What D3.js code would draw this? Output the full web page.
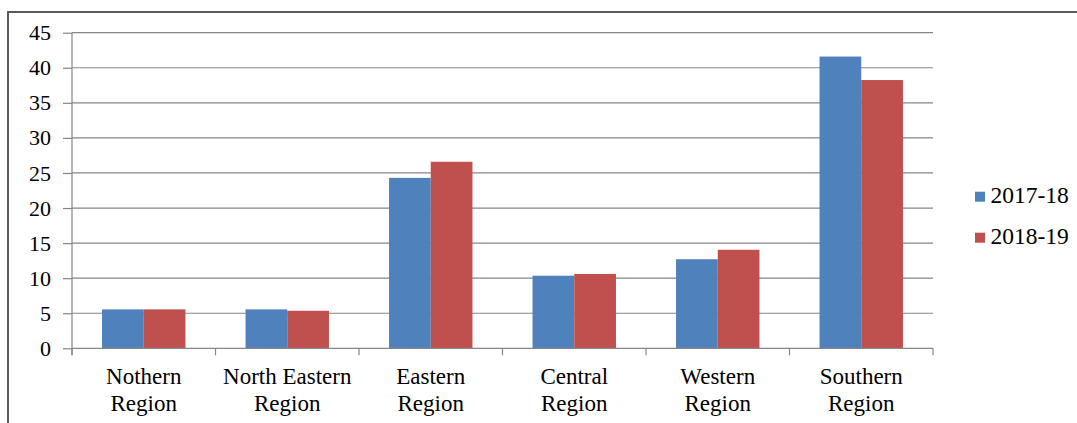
<!DOCTYPE html>
<html>
<head>
<meta charset="utf-8">
<script src="https://cdn.jsdelivr.net/npm/d3@7"></script>
<style>
  body { margin: 0; background: #fff; }
</style>
</head>
<body>
<div class="chart"></div>
<script>
const categories = [
  ["Nothern", "Region"],
  ["North Eastern", "Region"],
  ["Eastern", "Region"],
  ["Central", "Region"],
  ["Western", "Region"],
  ["Southern", "Region"]
];
const seriesNames = ["2017-18", "2018-19"];
const values2017 = [5.55, 5.55, 24.3, 10.35, 12.7, 41.6];
const values2018 = [5.55, 5.35, 26.6, 10.6, 14.05, 38.25];
const yTicks = [0, 5, 10, 15, 20, 25, 30, 35, 40, 45];
const colors = ["#4F81BD", "#C0504D"];

const FONT = "'Liberation Serif'";
const W = 1077, H = 423;
const margin = { top: 32.7, left: 72, right: 144, bottom: 74.7 };

const svg = d3.select(".chart").append("svg")
  .attr("width", W).attr("height", H)
  .style("font-family", FONT);

// outer chart border (left and top visible)
svg.append("path")
  .attr("d", `M8,${H} L8,12 L${W},12`)
  .attr("fill", "none").attr("stroke", "#595959").attr("stroke-width", 2);

const keys = categories.map((c) => c.join(" "));
const x = d3.scaleBand()
  .domain(keys)
  .range([margin.left, W - margin.right])
  .paddingInner(0).paddingOuter(0);

const y = d3.scaleLinear()
  .domain([0, 45])
  .range([H - margin.bottom, margin.top]);

const inner = d3.scaleBand()
  .domain(seriesNames)
  .range([0, x.bandwidth()])
  .paddingInner(0).paddingOuter(0.72);

// gridlines
svg.append("g")
  .selectAll("line")
  .data(yTicks.filter((d) => d > 0))
  .join("line")
  .attr("x1", margin.left).attr("x2", W - margin.right)
  .attr("y1", (d) => y(d)).attr("y2", (d) => y(d))
  .attr("stroke", "#868686").attr("stroke-width", 1.2);

// y axis
const yAxis = svg.append("g")
  .attr("transform", `translate(${margin.left},0)`)
  .call(d3.axisLeft(y).tickValues(yTicks).tickSize(9).tickSizeOuter(0).tickPadding(12));
yAxis.attr("font-family", null).attr("font-size", null);
yAxis.select(".domain").remove();
yAxis.append("line")
  .attr("x1", 0).attr("x2", 0)
  .attr("y1", margin.top).attr("y2", y(0) + 7)
  .attr("stroke", "#868686").attr("stroke-width", 1.2);
yAxis.selectAll(".tick line").attr("stroke", "#868686").attr("stroke-width", 1.2);
yAxis.selectAll(".tick text")
  .style("font-size", "22px")
  .style("font-family", FONT)
  .attr("fill", "#000");

// bars
const data = keys.map((k, i) => ({ key: k, vals: [values2017[i], values2018[i]] }));
svg.append("g")
  .selectAll("g")
  .data(data)
  .join("g")
  .attr("transform", (d) => `translate(${x(d.key)},0)`)
  .selectAll("rect")
  .data((d) => d.vals.map((v, j) => ({ name: seriesNames[j], value: v, j })))
  .join("rect")
  .attr("x", (d) => inner(d.name))
  .attr("width", inner.bandwidth())
  .attr("y", (d) => y(d.value))
  .attr("height", (d) => y(0) - y(d.value))
  .attr("fill", (d) => colors[d.j]);

// x axis baseline and ticks
const xAxisG = svg.append("g");
xAxisG.append("line")
  .attr("x1", margin.left).attr("x2", W - margin.right)
  .attr("y1", y(0)).attr("y2", y(0))
  .attr("stroke", "#868686").attr("stroke-width", 1.2);
xAxisG.selectAll(".xtick")
  .data(keys.map((k) => x(k) + x.bandwidth()).concat([margin.left]))
  .join("line")
  .attr("x1", (d) => d).attr("x2", (d) => d)
  .attr("y1", y(0)).attr("y2", y(0) + 7)
  .attr("stroke", "#868686").attr("stroke-width", 1.2);

// category labels
const labels = svg.append("g")
  .selectAll("text")
  .data(categories)
  .join("text")
  .attr("text-anchor", "middle")
  .style("font-family", FONT)
  .style("font-size", "23px");
labels.selectAll("tspan")
  .data((d, i) => d.map((line) => ({ line, cx: x(keys[i]) + x.bandwidth() / 2 })))
  .join("tspan")
  .attr("x", (d) => d.cx)
  .attr("y", (d, i) => 383.5 + i * 27)
  .text((d) => d.line);

// legend
const legend = svg.append("g")
  .selectAll("g")
  .data(seriesNames)
  .join("g")
  .attr("transform", (d, i) => `translate(975,${191.7 + i * 41})`);
legend.append("rect")
  .attr("width", 10).attr("height", 10)
  .attr("fill", (d, i) => colors[i]);
legend.append("text")
  .attr("x", 15.5).attr("y", 11.6)
  .style("font-family", FONT)
  .style("font-size", "23.5px")
  .text((d) => d);
</script>
</body>
</html>
